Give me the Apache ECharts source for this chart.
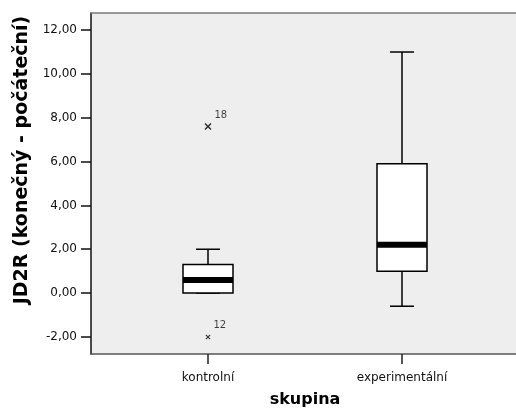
<!DOCTYPE html>
<html>
<head>
<meta charset="utf-8">
<script src="https://cdn.jsdelivr.net/npm/echarts@6/dist/echarts.min.js"></script>
<style>html,body{margin:0;padding:0;background:#fff;}#c{width:516px;height:416px;}</style>
</head>
<body>
<div id="c"></div>
<script>
var categories = ['kontrolní', 'experimentální'];
var boxMin = [0, -0.6];
var boxQ1 = [0, 1.0];
var boxMedian = [0.6, 2.2];
var boxQ3 = [1.3, 5.9];
var boxMax = [2.0, 11.0];
var outlierGroup = [0, 0];
var outlierValue = [7.6, -2.0];
var outlierCase = ['18', '12'];
var outlierSize = [7, 5];
var yTicks = [-2, 0, 2, 4, 6, 8, 10, 12];
var yMin = -2.78, yMax = 12.78;

var chart = echarts.init(document.getElementById('c'), null, {renderer: 'canvas'});

var boxData = categories.map(function (c, i) {
  return [i, boxMin[i], boxQ1[i], boxMedian[i], boxQ3[i], boxMax[i]];
});
var outData = outlierValue.map(function (v, i) {
  return {value: [outlierGroup[i], v], symbolSize: outlierSize[i], caseId: outlierCase[i]};
});

var crossPath = 'path://M0,1.5 L1.5,0 L5,3.5 L8.5,0 L10,1.5 L6.5,5 L10,8.5 L8.5,10 L5,6.5 L1.5,10 L0,8.5 L3.5,5 Z';

function renderBox(params, api) {
  var x = api.value(0);
  var pMin = api.coord([x, api.value(1)]);
  var pQ1 = api.coord([x, api.value(2)]);
  var pMed = api.coord([x, api.value(3)]);
  var pQ3 = api.coord([x, api.value(4)]);
  var pMax = api.coord([x, api.value(5)]);
  var cx = pQ1[0];
  var bw = 50, cw = 24;
  var ls = {stroke: '#000', lineWidth: 1.5};
  return {
    type: 'group',
    children: [
      {type: 'line', shape: {x1: cx, y1: pQ3[1], x2: cx, y2: pMax[1]}, style: ls},
      {type: 'line', shape: {x1: cx - cw / 2, y1: pMax[1], x2: cx + cw / 2, y2: pMax[1]}, style: ls},
      {type: 'line', shape: {x1: cx, y1: pQ1[1], x2: cx, y2: pMin[1]}, style: ls},
      {type: 'line', shape: {x1: cx - cw / 2, y1: pMin[1], x2: cx + cw / 2, y2: pMin[1]}, style: ls},
      {type: 'rect', shape: {x: cx - bw / 2, y: pQ3[1], width: bw, height: pQ1[1] - pQ3[1]},
        style: {fill: '#fff', stroke: '#000', lineWidth: 1.5}},
      {type: 'line', shape: {x1: cx - bw / 2, y1: pMed[1], x2: cx + bw / 2, y2: pMed[1]},
        style: {stroke: '#000', lineWidth: 6}}
    ]
  };
}

var option = {
  backgroundColor: '#fff',
  animation: false,
  grid: [
    {left: 91, right: -5, top: 13, bottom: 62, show: true, backgroundColor: '#eeeeee', borderWidth: 0},
    {left: 111, width: 388, top: 13, bottom: 62}
  ],
  xAxis: [
    {gridIndex: 0, type: 'value', min: 0, max: 1, position: 'bottom',
      axisLine: {show: true, onZero: false, lineStyle: {color: '#555', width: 1.5}},
      axisTick: {show: false}, axisLabel: {show: false}, splitLine: {show: false}},
    {gridIndex: 0, type: 'value', min: 0, max: 1, position: 'top',
      axisLine: {show: true, onZero: false, lineStyle: {color: '#7a7a7a', width: 1.5}},
      axisTick: {show: false}, axisLabel: {show: false}, splitLine: {show: false}},
    {gridIndex: 1, type: 'category', data: categories, position: 'bottom',
      axisLine: {show: false, onZero: false},
      axisTick: {show: true, alignWithLabel: true, length: 10, lineStyle: {color: '#222', width: 1.5}},
      axisLabel: {margin: 18, color: '#111', fontSize: 12, fontFamily: 'DejaVu Sans'},
      splitLine: {show: false}}
  ],
  yAxis: [
    {gridIndex: 0, type: 'value', min: yMin, max: yMax,
      axisLine: {show: true, onZero: false, lineStyle: {color: '#111', width: 1.5}},
      axisTick: {show: true, length: 10, customValues: yTicks, lineStyle: {color: '#111', width: 1.5}},
      axisLabel: {customValues: yTicks, margin: 14, color: '#111', fontSize: 12, fontFamily: 'DejaVu Sans',
        formatter: function (v) { return v.toFixed(2).replace('.', ','); }},
      splitLine: {show: false}},
    {gridIndex: 1, type: 'value', min: yMin, max: yMax, show: false, axisLine: {onZero: false}}
  ],
  series: [
    {type: 'custom', xAxisIndex: 2, yAxisIndex: 1, renderItem: renderBox, data: boxData, silent: true},
    {type: 'scatter', xAxisIndex: 2, yAxisIndex: 1, data: outData, symbol: crossPath,
      itemStyle: {color: '#000'},
      label: {show: true, position: 'right', offset: [0, -11], distance: 3,
        formatter: function (p) { return p.data.caseId; },
        color: '#111', fontSize: 10, fontFamily: 'DejaVu Sans'}}
  ],
  graphic: [
    {type: 'text', x: 22, y: 160, rotation: Math.PI / 2,
      style: {text: 'JD2R (konečný - počáteční)', font: 'bold 19px "DejaVu Sans"', fill: '#000',
        textAlign: 'center', textVerticalAlign: 'middle'}},
    {type: 'text', x: 305, y: 400,
      style: {text: 'skupina', font: 'bold 16px "DejaVu Sans"', fill: '#000',
        textAlign: 'center', textVerticalAlign: 'middle'}}
  ]
};
chart.setOption(option);
</script>
</body>
</html>
